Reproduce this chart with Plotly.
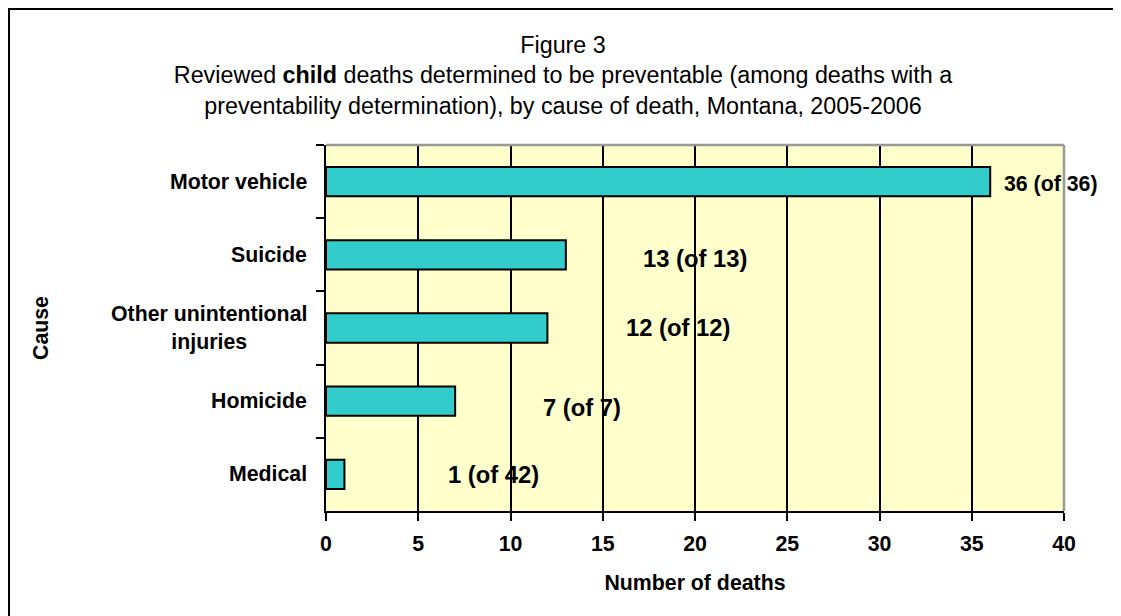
import plotly.graph_objects as go

# dados
causes = ["Motor vehicle", "Suicide", "Other unintentional<br>injuries", "Homicide", "Medical"]
preventable = [36, 13, 12, 7, 1]
reviewed = [36, 13, 12, 7, 42]
x_ticks = [0, 5, 10, 15, 20, 25, 30, 35, 40]

# deslocamento e tamanho dos rótulos (estilo, como no Excel original)
label_dx = [3.3, 7.0, 7.1, 6.9, 8.1]
label_dy = [-2, -4, 1, -6, 0]
label_size = [21.3, 23.8, 23.8, 23.8, 23.8]

FONT = "Arial, Liberation Sans, sans-serif"
BOLD = 21.3

fig = go.Figure()
fig.add_trace(go.Bar(
    x=preventable,
    y=causes,
    orientation="h",
    marker=dict(color="#33CCCC", line=dict(color="black", width=2)),
    hoverinfo="x+y",
))

# rótulos das barras
for c, p, r, dx, dy, s in zip(causes, preventable, reviewed, label_dx, label_dy, label_size):
    fig.add_annotation(
        x=p + dx, y=c, text=f"<b>{p} (of {r})</b>", showarrow=False,
        xanchor="center", yshift=dy,
        font=dict(family=FONT, size=s, color="black"),
    )

# nomes das categorias (centralizados em várias linhas)
for c in causes:
    fig.add_annotation(
        x=0, xref="paper", y=c, text=f"<b>{c}</b>", showarrow=False,
        xanchor="right", xshift=-17, align="center",
        font=dict(family=FONT, size=BOLD, color="black"),
    )

# título do eixo y
fig.add_annotation(
    x=0, xref="paper", y=0.5, yref="paper", text="<b>Cause</b>", showarrow=False,
    textangle=-90, xanchor="center", xshift=-285,
    font=dict(family=FONT, size=BOLD, color="black"),
)

# borda cinza do plot area (topo e direita) e moldura externa
fig.add_shape(type="line", xref="x domain", yref="y domain", x0=0, x1=1, y0=1, y1=1,
              line=dict(color="#999999", width=2.5), layer="above")
fig.add_shape(type="line", xref="x domain", yref="y domain", x0=1, x1=1, y0=0, y1=1,
              line=dict(color="#999999", width=2.5), layer="above")
fig.add_shape(type="rect", xref="paper", yref="paper", x0=-0.4295, x1=1.09, y0=-0.31, y1=1.3716,
              line=dict(color="black", width=2), layer="above")

# a página tem 8px de margem no body, por isso 1113x608
fig.update_layout(
    width=1113, height=608,
    margin=dict(l=318, r=57, t=137, b=105),
    paper_bgcolor="white",
    plot_bgcolor="#FFFFCC",
    bargap=0.6,
    showlegend=False,
    font=dict(family=FONT, color="black"),
    title=dict(
        text="Figure 3<br>Reviewed <b>child</b> deaths determined to be preventable (among deaths with a<br>"
             "preventability determination), by cause of death, Montana, 2005-2006",
        x=555 / 1113, xref="container", xanchor="center",
        y=1 - 45 / 608, yref="container", yanchor="top",
        font=dict(family=FONT, size=23.3, color="black"),
    ),
)

fig.update_xaxes(
    range=[0, 40], tickvals=x_ticks,
    showgrid=True, gridcolor="black", gridwidth=2,
    showline=True, linecolor="black", linewidth=2,
    ticks="outside", ticklen=8, tickwidth=2, tickcolor="black",
    ticklabelstandoff=4,
    tickfont=dict(family=FONT, size=BOLD, color="black", weight="bold"),
    title=dict(text="<b>Number of deaths</b>", font=dict(family=FONT, size=BOLD, color="black"), standoff=21),
    zeroline=False, fixedrange=True,
)
fig.update_yaxes(
    categoryorder="array", categoryarray=causes, autorange="reversed",
    showticklabels=False, showgrid=False,
    showline=True, linecolor="black", linewidth=2,
    ticks="outside", ticklen=8, tickwidth=2, tickcolor="black", tickson="boundaries",
    fixedrange=True,
)

fig.write_html("out.html")
